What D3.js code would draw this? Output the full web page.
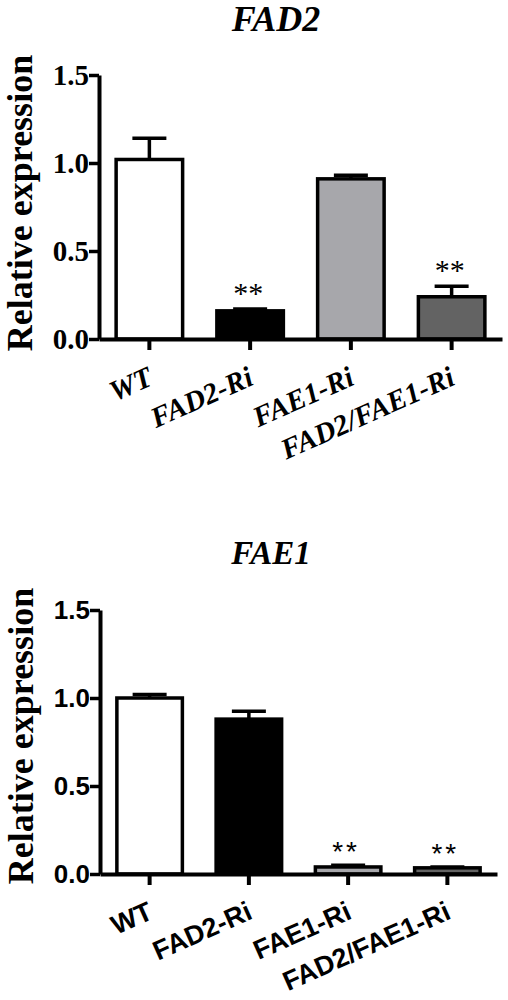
<!DOCTYPE html>
<html>
<head>
<meta charset="utf-8">
<script src="https://cdn.jsdelivr.net/npm/d3@7"></script>
<style>
  html, body { margin: 0; padding: 0; background: #fff; }
  svg { display: block; }
</style>
</head>
<body>
<script>
// ---------------- data ----------------
const categories = ["WT", "FAD2-Ri", "FAE1-Ri", "FAD2/FAE1-Ri"];
const fad2Values = [1.02, 0.16, 0.91, 0.24];
const fad2Errors = [0.12, 0.01, 0.02, 0.06];
const fad2Sig = ["", "**", "", "**"];
const fae1Values = [1.00, 0.88, 0.04, 0.035];
const fae1Errors = [0.02, 0.045, 0.01, 0.005];
const fae1Sig = ["", "", "**", "**"];
const yTicks = [0, 0.5, 1.0, 1.5];
const barColors = ["#ffffff", "#000000", "#a7a7ab", "#636363"];
const yLabel = "Relative expression";

const W = 508, H = 1000;
const SERIF = "'Liberation Serif', 'Times New Roman', Times, serif";
const SANS = "'Liberation Sans', Arial, Helvetica, sans-serif";
const svg = d3.select("body").append("svg").attr("width", W).attr("height", H);

function panel(cfg) {
  const g = svg.append("g");
  const x = d3.scaleBand().domain(categories).range([cfg.x0, cfg.x1]).paddingInner(0.34).paddingOuter(0.17);
  const y = d3.scaleLinear().domain([0, 1.5]).range([cfg.y0, cfg.y1]);

  // title
  g.append("text")
    .attr("x", cfg.titleX).attr("y", cfg.titleY)
    .attr("text-anchor", "middle")
    .style("font-family", SERIF)
    .style("font-weight", "bold").style("font-style", "italic")
    .style("font-size", cfg.titleSize + "px")
    .text(cfg.title);

  // y label
  g.append("text")
    .attr("transform", `translate(${cfg.ylabX},${cfg.ylabY}) rotate(-90)`)
    .attr("text-anchor", "middle")
    .style("font-family", SERIF)
    .style("font-weight", "bold")
    .style("font-size", "36px")
    .text(yLabel);

  // bars
  const data = categories.map((c, i) => ({ c, v: cfg.values[i], e: cfg.errors[i], s: cfg.sig[i], col: barColors[i] }));
  g.selectAll("rect.bar").data(data).enter().append("rect")
    .attr("class", "bar")
    .attr("x", d => x(d.c))
    .attr("width", x.bandwidth())
    .attr("y", d => y(d.v))
    .attr("height", d => y(0) - y(d.v))
    .attr("fill", d => d.col)
    .attr("stroke", "#000").attr("stroke-width", 3.5);

  // error bars
  const eb = g.selectAll("g.err").data(data).enter().append("g").attr("class", "err");
  eb.append("line")
    .attr("x1", d => x(d.c) + x.bandwidth() / 2).attr("x2", d => x(d.c) + x.bandwidth() / 2)
    .attr("y1", d => y(d.v)).attr("y2", d => y(d.v + d.e))
    .attr("stroke", "#000").attr("stroke-width", 3.5);
  eb.append("line")
    .attr("x1", d => x(d.c) + x.bandwidth() / 2 - 17).attr("x2", d => x(d.c) + x.bandwidth() / 2 + 17)
    .attr("y1", d => y(d.v + d.e)).attr("y2", d => y(d.v + d.e))
    .attr("stroke", "#000").attr("stroke-width", 3.5);

  // significance
  g.selectAll("text.sig").data(data.filter(d => d.s)).enter().append("text")
    .attr("class", "sig")
    .attr("x", d => x(d.c) + x.bandwidth() / 2 - 2)
    .attr("y", d => y(d.v + d.e) + cfg.sigDy)
    .attr("text-anchor", "middle")
    .style("font-family", cfg.sigFont)
    .style("font-size", cfg.sigSize + "px")
    .style("letter-spacing", cfg.sigSpacing + "px")
    .text(d => d.s);

  // y axis
  const ya = g.append("g").attr("transform", `translate(${cfg.x0},0)`)
    .call(d3.axisLeft(y).tickValues(yTicks).tickFormat(d3.format(".1f")).tickSize(10).tickSizeOuter(0).tickPadding(0));
  ya.select(".domain").attr("stroke-width", 4);
  ya.selectAll(".tick line").attr("stroke-width", 3.5);
  ya.selectAll(".tick text")
    .attr("font-family", null).attr("font-size", null)
    .style("font-family", cfg.tickFont)
    .style("font-weight", "bold")
    .style("font-size", cfg.tickSize + "px")
    .attr("dy", "0.34em");

  // x axis
  const xa = g.append("g").attr("transform", `translate(0,${cfg.y0})`)
    .call(d3.axisBottom(x).tickSize(11).tickSizeOuter(0));
  xa.select(".domain").attr("stroke-width", 4);
  xa.selectAll(".tick line").attr("stroke-width", 4);
  xa.selectAll(".tick text")
    .attr("x", 0).attr("y", 0).attr("dy", 0)
    .attr("text-anchor", "end")
    .attr("transform", `translate(5,${cfg.xlabY - cfg.y0}) rotate(-24)`)
    .style("font-family", cfg.xFont)
    .style("font-weight", "bold")
    .style("font-style", cfg.xStyle)
    .style("font-size", cfg.xSize + "px");
}

panel({
  title: "FAD2", titleX: 276, titleY: 31, titleSize: 36,
  x0: 99, x1: 502, y0: 339, y1: 75,
  ylabX: 32, ylabY: 203,
  values: fad2Values, errors: fad2Errors, sig: fad2Sig,
  sigFont: SERIF, sigSize: 30, sigSpacing: 0, sigDy: -6,
  tickFont: SERIF, tickSize: 29,
  xFont: SERIF, xStyle: "italic", xSize: 29, xlabY: 384
});

panel({
  title: "FAE1", titleX: 271, titleY: 564, titleSize: 33,
  x0: 100, x1: 497, y0: 874, y1: 610,
  ylabX: 33, ylabY: 736,
  values: fae1Values, errors: fae1Errors, sig: fae1Sig,
  sigFont: SANS, sigSize: 28, sigSpacing: 3, sigDy: -4,
  tickFont: SANS, tickSize: 26,
  xFont: SANS, xStyle: "normal", xSize: 27, xlabY: 918
});
</script>
</body>
</html>
